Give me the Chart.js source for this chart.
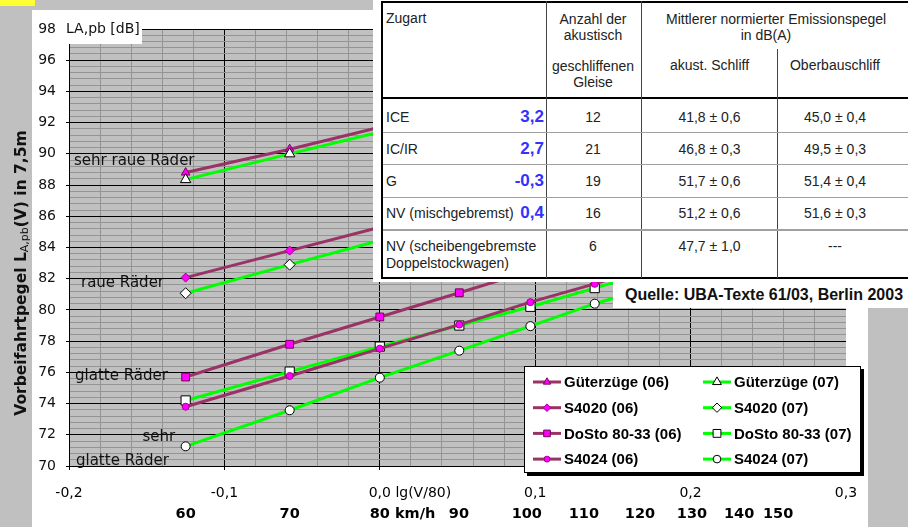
<!DOCTYPE html>
<html><head><meta charset="utf-8">
<script src="https://cdn.jsdelivr.net/npm/chart.js@4/dist/chart.umd.min.js"></script>
<style>
html,body{margin:0;padding:0;background:#c0c0c0;overflow:hidden}
#wrap{position:relative;width:908px;height:527px}
canvas{position:absolute;left:0;top:0}
.t{position:absolute;font:14px "Liberation Sans",Arial,sans-serif;color:#222;white-space:nowrap;line-height:16px}
.b{position:absolute;font:bold 17px "Liberation Sans",Arial,sans-serif;color:#3333ff;white-space:nowrap;line-height:18px}
.ln{position:absolute}
#quelle{position:absolute;left:613px;top:282px;width:295px;height:26px;background:#fff;font:bold 16px "Liberation Sans",Arial,sans-serif;color:#111;line-height:26px;padding-left:12px;box-sizing:border-box;white-space:nowrap}
</style></head><body>
<div id="wrap"><canvas id="c" width="908" height="527"></canvas><div id="tbl"></div><div id="quelle">Quelle: UBA-Texte 61/03, Berlin 2003</div></div>
<script>
// ---------- data ----------
const speeds = [60, 70, 80, 90, 100, 110, 120];            // km/h
const gueter06 = [88.8, 90.3, 91.7, 92.9, 94.0, 94.9, 95.8];
const gueter07 = [88.35, 90.0, 91.4, 92.6, 93.7, 94.6, 95.5];
const s4020_06 = [82.07, 83.8, 85.3, 86.6, 87.8, 88.8, 89.7];
const s4020_07 = [81.07, 82.9, 84.45, 85.8, 87.0, 88.0, 88.9];
const dosto06  = [75.7, 77.8, 79.55, 81.1, 82.5, 83.7, 84.8];
const dosto07  = [74.2, 76.05, 77.65, 79.0, 80.2, 81.4, 82.5];
const s4024_06 = [73.8, 75.77, 77.52, 79.06, 80.5, 81.67, 82.8];
const s4024_07 = [71.26, 73.57, 75.66, 77.39, 78.96, 80.4, 81.5];

const xMajorTicks = [-0.2, -0.1, 0.0, 0.1, 0.2, 0.3];
const yMajorTicks = [70, 72, 74, 76, 78, 80, 82, 84, 86, 88, 90, 92, 94, 96, 98];
const speedLabels = ['60', '70', '80', '90', '100', '110', '120', '130', '140', '150'];
const speedLabelPos = [-0.1249, -0.058, 0.0, 0.0509, 0.0946, 0.1313, 0.1674, 0.2009, 0.2312, 0.2563];

const legendNames = ['Güterzüge (06)', 'Güterzüge (07)', 'S4020 (06)', 'S4020 (07)', 'DoSto 80-33 (06)', 'DoSto 80-33 (07)', 'S4024 (06)', 'S4024 (07)'];

const tblZugart = ['ICE', 'IC/IR', 'G', 'NV (mischgebremst)', 'NV (scheibengebremste\nDoppelstockwagen)'];
const tblDiff = ['3,2', '2,7', '-0,3', '0,4', ''];
const tblGleise = ['12', '21', '19', '16', '6'];
const tblAkust = ['41,8 ± 0,6', '46,8 ± 0,3', '51,7 ± 0,6', '51,2 ± 0,6', '47,7 ± 1,0'];
const tblOberbau = ['45,0 ± 0,4', '49,5 ± 0,3', '51,4 ± 0,4', '51,6 ± 0,3', '---'];

// ---------- styles ----------
const PURPLE = '#993366', GREEN = '#00ff00', MAG = '#ff00ff';
const styles = [
  {c: PURPLE, ps: 'triangle', r: 5, bg: MAG, bc: '#800060'},
  {c: GREEN,  ps: 'triangle', r: 6, bg: '#fff', bc: '#000'},
  {c: PURPLE, ps: 'rectRot',  r: 4.5, bg: MAG, bc: '#a00090'},
  {c: GREEN,  ps: 'rectRot',  r: 5.5, bg: '#fff', bc: '#000'},
  {c: PURPLE, ps: 'rect',     r: 5.5, bg: MAG, bc: '#700050'},
  {c: GREEN,  ps: 'rect',     r: 6.5, bg: '#fff', bc: '#000'},
  {c: PURPLE, ps: 'circle',   r: 3.5, bg: MAG, bc: '#a00090'},
  {c: GREEN,  ps: 'circle',   r: 4.5, bg: '#fff', bc: '#000'}
];
const seriesVals = [gueter06, gueter07, s4020_06, s4020_07, dosto06, dosto07, s4024_06, s4024_07];

const datasets = seriesVals.map((vals, i) => ({
  label: legendNames[i],
  data: speeds.map((s, k) => ({x: Math.log10(s / 80), y: vals[k]})),
  borderColor: styles[i].c, borderWidth: 3, tension: 0,
  pointStyle: styles[i].ps, pointRadius: styles[i].r, pointHoverRadius: styles[i].r,
  pointBackgroundColor: styles[i].bg, pointBorderColor: styles[i].bc, pointBorderWidth: 1,
  order: seriesVals.length - i, clip: false
}));

const isMajor = (v, step) => Math.abs(v / step - Math.round(v / step)) < 1e-6;
const fmt = v => v.toFixed(1).replace('.', ',').replace('-0,0', '0,0');

function xTicks() { const t = []; for (let k = 0; k <= 25; k++) t.push({value: Math.round((-0.2 + k * 0.02) * 1000) / 1000}); return t; }
function yTicks() { const t = []; for (let k = 0; k <= 70; k++) t.push({value: Math.round((70 + k * 0.4) * 100) / 100}); return t; }

const inPlotLabels = [
  {t: 'sehr raue Räder', x: -0.1968, y: 89.55, align: 'left'},
  {t: 'raue Räder', x: -0.1923, y: 81.75, align: 'left'},
  {t: 'glatte Räder', x: -0.1961, y: 75.77, align: 'left'},
  {t: 'sehr', x: -0.1317, y: 71.88, align: 'right'},
  {t: 'glatte Räder', x: -0.1955, y: 70.34, align: 'left'}
];

const deco = {
  id: 'deco',
  beforeDraw(chart) {
    const {ctx, chartArea: a} = chart;
    ctx.save();
    ctx.fillStyle = '#c0c0c0'; ctx.fillRect(0, 0, 908, 527);
    ctx.fillStyle = '#fff'; ctx.fillRect(32, 10, 836, 517);
    ctx.fillStyle = '#ffff33'; ctx.fillRect(0, 0, 35, 6);
    ctx.fillStyle = '#c0c0c0'; ctx.fillRect(a.left, a.top, a.right - a.left, a.bottom - a.top);
    ctx.restore();
  },
  afterDraw(chart) {
    const {ctx} = chart;
    const xs = chart.scales.x, ys = chart.scales.y, x2 = chart.scales.x2;
    ctx.save();
    // in-plot labels
    ctx.font = '15px "DejaVu Sans"'; ctx.fillStyle = '#111'; ctx.textBaseline = 'middle';
    inPlotLabels.forEach(l => { ctx.textAlign = l.align; ctx.fillText(l.t, xs.getPixelForValue(l.x), ys.getPixelForValue(l.y)); });
    // unit box
    ctx.fillStyle = '#fff'; ctx.fillRect(60, 18, 82, 26);
    ctx.fillStyle = '#111'; ctx.textAlign = 'left'; ctx.font = '14px "DejaVu Sans"';
    ctx.fillText('LA,pb [dB]', 66, ys.getPixelForValue(98));
    // extra axis texts
    const addAfter = (scale, val, txt) => {
      const items = scale.getLabelItems();
      const it = items.find(o => Math.abs(o.options.translation[0] - scale.getPixelForValue(val)) < 0.5);
      if (!it) return;
      ctx.font = it.font.string; ctx.fillStyle = '#000';
      ctx.textBaseline = it.options.textBaseline; ctx.textAlign = 'left';
      const w = ctx.measureText(it.label).width;
      ctx.fillText(txt, it.options.translation[0] + w / 2, it.options.translation[1] + it.textOffset);
    };
    addAfter(xs, 0, ' lg(V/80)');
    addAfter(x2, 0, ' km/h');
    // y title
    ctx.save();
    ctx.translate(21.5, 273); ctx.rotate(-Math.PI / 2);
    ctx.fillStyle = '#111'; ctx.textBaseline = 'middle'; ctx.textAlign = 'left';
    const f1 = 'bold 15.5px "DejaVu Sans"', f2 = '11px "DejaVu Sans"';
    const parts = [['Vorbeifahrtpegel L', f1, 0], ['A,pb', f2, 3.5], ['(V) in 7,5m', f1, 0]];
    let tot = 0; parts.forEach(p => { ctx.font = p[1]; tot += ctx.measureText(p[0]).width; });
    let px = -tot / 2;
    parts.forEach(p => { ctx.font = p[1]; ctx.fillText(p[0], px, p[2]); px += ctx.measureText(p[0]).width; });
    ctx.restore();
    // legend
    const L = {x: 524, y: 366, w: 337, h: 107};
    ctx.fillStyle = '#000'; ctx.fillRect(L.x + 3, L.y + 3, L.w, L.h);
    ctx.fillStyle = '#fff'; ctx.fillRect(L.x, L.y, L.w, L.h);
    ctx.strokeStyle = '#000'; ctx.lineWidth = 1; ctx.strokeRect(L.x + 0.5, L.y + 0.5, L.w - 1, L.h - 1);
    ctx.font = 'bold 15px "Liberation Sans"'; ctx.textBaseline = 'middle'; ctx.textAlign = 'left';
    legendNames.forEach((n, i) => {
      const col = i % 2, row = Math.floor(i / 2);
      const lx = col ? 703 : 533, cy = 382 + row * 25.7;
      const st = styles[i];
      ctx.strokeStyle = st.c; ctx.lineWidth = 3;
      ctx.beginPath(); ctx.moveTo(lx, cy); ctx.lineTo(lx + 28, cy); ctx.stroke();
      ctx.fillStyle = st.bg; ctx.strokeStyle = st.bc; ctx.lineWidth = 1;
      Chart.helpers.drawPoint(ctx, {pointStyle: st.ps, radius: st.r * 0.85, rotation: 0, borderWidth: 1}, lx + 14, cy);
      ctx.fillStyle = '#000';
      ctx.fillText(n, lx + 31, cy + 1);
    });
    ctx.restore();
  }
};

new Chart(document.getElementById('c'), {
  type: 'line',
  data: {datasets},
  plugins: [deco],
  options: {
    responsive: false, animation: false, devicePixelRatio: 1,
    layout: {padding: {left: 0, top: 29, right: 62, bottom: 0}},
    plugins: {legend: {display: false}, tooltip: {enabled: false}},
    scales: {
      x: {
        type: 'linear', position: 'bottom', min: -0.2, max: 0.3, weight: 0,
        afterBuildTicks: s => { s.ticks = xTicks(); },
        afterFit: s => { s.height = 37; },
        grid: {
          color: c => isMajor(c.tick.value, 0.1) ? (Math.abs(c.tick.value - 0.3) < 1e-6 ? 'rgba(0,0,0,0)' : '#000') : '#949494',
          tickColor: c => isMajor(c.tick.value, 0.1) ? '#000' : 'rgba(0,0,0,0)',
          tickLength: 4, lineWidth: 1
        },
        border: {display: true, color: '#000', width: 1},
        ticks: {autoSkip: false, maxRotation: 0, padding: 15, color: '#000', font: {family: 'DejaVu Sans', size: 14},
          callback: v => isMajor(v, 0.1) ? fmt(v) : ''}
      },
      x2: {
        type: 'linear', position: 'bottom', min: -0.2, max: 0.3, weight: 1,
        afterBuildTicks: s => { s.ticks = speedLabelPos.map(v => ({value: v})); },
        afterFit: s => { s.height = 24; },
        grid: {display: false, drawTicks: false}, border: {display: false},
        ticks: {autoSkip: false, maxRotation: 0, padding: 3, color: '#000', font: {family: 'DejaVu Sans', size: 14.5, weight: 'bold'},
          callback: (v, i) => speedLabels[i]}
      },
      y: {
        type: 'linear', min: 70, max: 98,
        afterBuildTicks: s => { s.ticks = yTicks(); },
        afterFit: s => { s.width = 69; },
        grid: {
          color: c => isMajor(c.tick.value - 70, 2) ? '#000' : '#949494',
          tickColor: c => isMajor(c.tick.value - 70, 2) ? '#000' : 'rgba(0,0,0,0)',
          tickLength: 3, lineWidth: 1
        },
        border: {display: true, color: '#000', width: 1},
        ticks: {autoSkip: false, padding: 10, color: '#111', font: {family: 'DejaVu Sans', size: 14},
          callback: v => (isMajor(v - 70, 2) && yMajorTicks.includes(Math.round(v))) ? String(Math.round(v)) : ''}
      }
    }
  }
});

// ---------- table overlay ----------
const tbl = document.getElementById('tbl');
function add(cls, text, css) { const d = document.createElement('div'); d.className = cls; d.textContent = text; Object.assign(d.style, css); tbl.appendChild(d); return d; }
function line(l, t, w, h, c) { add('ln', '', {left: l + 'px', top: t + 'px', width: w + 'px', height: h + 'px', background: c}); }
function ctext(text, cx, cy) { add('t', text, {left: (cx - 100) + 'px', width: '200px', textAlign: 'center', top: (cy - 8) + 'px'}); }
function ltext(text, lx, cy) { add('t', text, {left: lx + 'px', top: (cy - 8) + 'px'}); }
add('ln', '', {left: '373px', top: '0px', width: '535px', height: '282px', background: '#fff'});
// borders
line(381, 1, 527, 2, '#000');
line(381, 1, 2, 278, '#000');
line(381, 277, 527, 2, '#000');
line(381, 97, 527, 2, '#000');
line(546, 1, 1, 277, '#444');
line(641, 1, 1, 277, '#444');
line(777, 49, 1, 229, '#444');
line(383, 132, 525, 1, '#a0a0a0');
line(383, 164, 525, 1, '#a0a0a0');
line(383, 197, 525, 1, '#a0a0a0');
line(383, 229, 525, 2, '#a0a0a0');
// header
ltext('Zugart', 386, 18);
ctext('Anzahl der', 593, 18.5); ctext('akustisch', 593, 34.5);
ctext('geschliffenen', 593, 65.5); ctext('Gleise', 593, 81.7);
ctext('Mittlerer normierter Emissionspegel', 766, 18.5); ctext('in dB(A)', 766, 34.5);
ctext('akust. Schliff', 709.5, 65); ctext('Oberbauschliff', 835, 65);
const rowCY = [117, 148.5, 181, 213, 246];
tblZugart.forEach((z, i) => {
  z.split('\n').forEach((s, j) => ltext(s, 386, rowCY[i] + j * 16.7));
  if (tblDiff[i]) add('b', tblDiff[i], {left: '444px', width: '100px', textAlign: 'right', top: (rowCY[i] - 9) + 'px'});
  ctext(tblGleise[i], 593, rowCY[i]);
  ctext(tblAkust[i], 709.5, rowCY[i]);
  ctext(tblOberbau[i], 835, rowCY[i]);
});
</script>
</body></html>
